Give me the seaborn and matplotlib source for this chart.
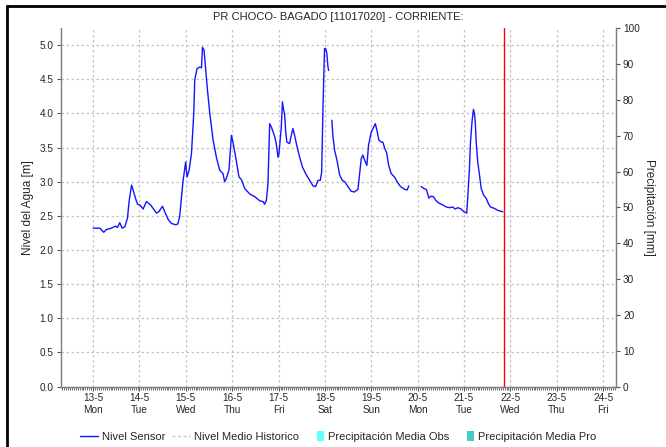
import numpy as np
import pandas as pd
import seaborn as sns
import matplotlib
matplotlib.use('Agg')
import matplotlib.pyplot as plt
import matplotlib.dates as mdates
import matplotlib.ticker as mticker
from matplotlib.lines import Line2D
from matplotlib.patches import Patch, Rectangle
from matplotlib.legend_handler import HandlerPatch

sns.set_style('ticks')
plt.rcParams['font.family'] = ['Liberation Sans', 'DejaVu Sans']

### Data (hours since 13-5 00:00, water level in m; None = gap in the record)
inicio = pd.Timestamp('2024-05-13')
horas = [0.0, 3.5, 5.5, 6.9, 9.5, 11.6, 12.6, 13.8, 15.0, 16.4, 17.8, 18.6, 19.9, 20.7,
         21.9, 23.0, 24.2, 25.9, 27.6, 29.8, 31.0, 32.8, 34.0, 35.9, 37.1, 38.8, 40.5,
         42.6, 43.8, 44.8, 46.5, 47.9, 48.6, 49.7, 50.9, 52.1, 52.6, 53.8, 55.2, 56.1,
         56.6, 57.4, 57.8, 59.2, 60.4, 62.1, 63.8, 65.5, 67.2, 68.1, 69.0, 70.3, 71.6,
         72.4, 73.8, 75.5, 76.8, 78.5, 81.1, 83.7, 86.3, 87.9, 88.8, 89.7, 90.5, 91.4,
         92.3, 94.0, 94.8, 95.7, 96.2, 97.4, 98.0, 98.6, 99.1, 99.7, 100.3, 101.7, 102.6,
         103.4, 104.3, 105.2, 106.9, 108.3, 110.0, 112.1, 113.8, 115.2, 116.4, 117.6,
         118.3, 119.0, 119.8, 120.4, 121.0, 121.5, 121.9,
         122.7,
         123.6, 124.1, 125.0, 126.2, 127.6, 129.0, 130.2, 131.9, 133.6, 135.3, 137.1,
         137.9, 138.8, 139.6, 140.9, 141.7, 142.6, 144.0, 146.1, 147.1, 147.9, 149.2,
         150.0, 150.9, 151.9, 153.0, 154.3, 156.0, 157.4, 159.1, 161.2, 162.6, 163.4,
         166.5,
         169.8, 171.2, 172.4, 172.9, 173.8, 175.0, 176.2, 177.3, 178.8, 181.0, 182.8,
         184.5, 186.2, 187.4, 188.8, 190.5, 191.9, 193.4, 194.0, 194.8, 195.3, 196.2,
         196.9, 197.4, 197.8, 198.3, 199.1, 200.0, 200.9, 202.2, 203.4, 204.6, 205.7,
         207.7, 209.5, 212.1]
nivel = [2.32, 2.32, 2.26, 2.30, 2.32, 2.35, 2.33, 2.40, 2.32, 2.34, 2.47, 2.71, 2.95, 2.88,
         2.76, 2.67, 2.66, 2.60, 2.71, 2.66, 2.61, 2.54, 2.56, 2.64, 2.56, 2.45, 2.39,
         2.37, 2.38, 2.49, 3.00, 3.29, 3.07, 3.17, 3.41, 4.00, 4.49, 4.66, 4.68, 4.67,
         4.97, 4.93, 4.80, 4.34, 4.00, 3.61, 3.36, 3.17, 3.12, 3.00, 3.05, 3.17, 3.68,
         3.58, 3.36, 3.07, 3.03, 2.90, 2.82, 2.78, 2.72, 2.71, 2.67, 2.73, 2.97, 3.85,
         3.80, 3.66, 3.56, 3.36, 3.41, 3.80, 4.17, 4.05, 4.00, 3.73, 3.58, 3.56, 3.68,
         3.78, 3.68, 3.56, 3.36, 3.22, 3.12, 3.02, 2.94, 2.93, 3.02, 3.02,
         3.14, 4.10, 4.95, 4.95, 4.88, 4.70, 4.63,
         None,
         3.90, 3.68, 3.46, 3.32, 3.10, 3.02, 3.00, 2.93, 2.86, 2.85, 2.89,
         3.10, 3.34, 3.39, 3.29, 3.24, 3.54, 3.73, 3.85, 3.73, 3.61, 3.58,
         3.58, 3.49, 3.43, 3.24, 3.12, 3.07, 3.00, 2.93, 2.89, 2.88, 2.94,
         None,
         2.93, 2.90, 2.89, 2.85, 2.76, 2.79, 2.78, 2.73, 2.69, 2.66, 2.63,
         2.62, 2.63, 2.60, 2.62, 2.60, 2.56, 2.54, 2.80, 3.19, 3.56, 3.90,
         4.06, 4.00, 3.88, 3.58, 3.29, 3.10, 2.90, 2.80, 2.76, 2.68, 2.63,
         2.61, 2.58, 2.56]
hora_actual = 212.9  # red "now" line

titulo = 'PR CHOCO- BAGADO [11017020] - CORRIENTE:'
series = ['Nivel Sensor', 'Nivel Medio Historico', 'Precipitación Media Obs',
          'Precipitación Media Pro']

df = pd.DataFrame({'t': inicio + pd.to_timedelta(horas, unit='h'),
                   'nivel': pd.to_numeric(pd.Series(nivel, dtype=object))})
df['tramo'] = df['nivel'].isna().cumsum()
df = df.dropna()

### Canvas
fig = plt.figure(figsize=(6.66, 4.47), dpi=100)
ax = fig.add_axes([0.0911, 0.1353, 0.925 - 0.0911, 0.937 - 0.1353])

sns.lineplot(data=df, x='t', y='nivel', units='tramo', estimator=None,
             color='#1414ff', linewidth=1.0, ax=ax)
ax.axvline(inicio + pd.Timedelta(hours=hora_actual), color='red', linewidth=1.0, zorder=5)

ax.set_xlim(inicio + pd.Timedelta(hours=-16.8), inicio + pd.Timedelta(hours=270.7))
ax.set_ylim(0, 5.25)
ax.yaxis.set_major_locator(mticker.MultipleLocator(0.5))
ax.yaxis.set_major_formatter(mticker.FormatStrFormatter('%.1f'))
ax.xaxis.set_major_locator(mdates.DayLocator())
ax.xaxis.set_minor_locator(mdates.HourLocator())
ax.xaxis.set_major_formatter(mticker.FuncFormatter(
    lambda v, p: '{0}-{1}\n{2:%a}'.format(mdates.num2date(v).day, mdates.num2date(v).month,
                                          mdates.num2date(v))))

ax.grid(True, which='major', color='#c4c4c4', linestyle=(0, (2, 2)), linewidth=0.9)
ax.set_xlabel('')
ax.set_ylabel('Nivel del Agua [m]', fontsize=8.5, labelpad=4)
ax.tick_params(axis='both', which='major', labelsize=7.2, length=3, width=0.8,
               color='#555555', pad=2)
ax.tick_params(axis='x', which='minor', length=2, width=0.6, color='#555555')
ax.spines['top'].set_visible(False)
for m in ['left', 'bottom', 'right']:
    ax.spines[m].set_color('#808080')
    ax.spines[m].set_linewidth(0.9)

### Right axis (precipitation)
ax2 = ax.twinx()
ax2.set_ylim(0, 100)
ax2.yaxis.set_major_locator(mticker.MultipleLocator(10))
ax2.tick_params(axis='y', labelsize=7.2, length=3, width=0.8, color='#555555', pad=2)
ax2.set_ylabel('Precipitación [mm]', fontsize=8.5, rotation=270, labelpad=11)
ax2.spines['top'].set_visible(False)
for m in ['left', 'bottom', 'right']:
    ax2.spines[m].set_color('#808080')
    ax2.spines[m].set_linewidth(0.9)

ax.set_title(titulo, fontsize=8, pad=6)

### Legend
def caja_estrecha(legend, orig_handle, xdescent, ydescent, width, height, fontsize):
    w = 0.4 * width
    return Rectangle((width - w - xdescent, -ydescent - 0.15 * height), w, 1.3 * height)

handles = [Line2D([], [], color='#1414ff', linewidth=1.0),
           Line2D([], [], color='#c0c0c0', linewidth=1.0, linestyle=(0, (2, 2))),
           Patch(facecolor='#66ffff', edgecolor='none'),
           Patch(facecolor='#44cccc', edgecolor='none')]
fig.legend(handles, series, loc='center', bbox_to_anchor=(0.508, 0.022), ncol=4,
           frameon=False, fontsize=8, handlelength=1.6, handletextpad=0.4,
           columnspacing=0.6, handler_map={Patch: HandlerPatch(patch_func=caja_estrecha)})

### Outer frame
fig.add_artist(Line2D([0.0105, 0.0105], [0.0, 0.9866], color='black', linewidth=2,
                      transform=fig.transFigure))
fig.add_artist(Line2D([0.0105, 1.0], [0.9866, 0.9866], color='black', linewidth=2,
                      transform=fig.transFigure))

fig.savefig('out.png', dpi=100)
